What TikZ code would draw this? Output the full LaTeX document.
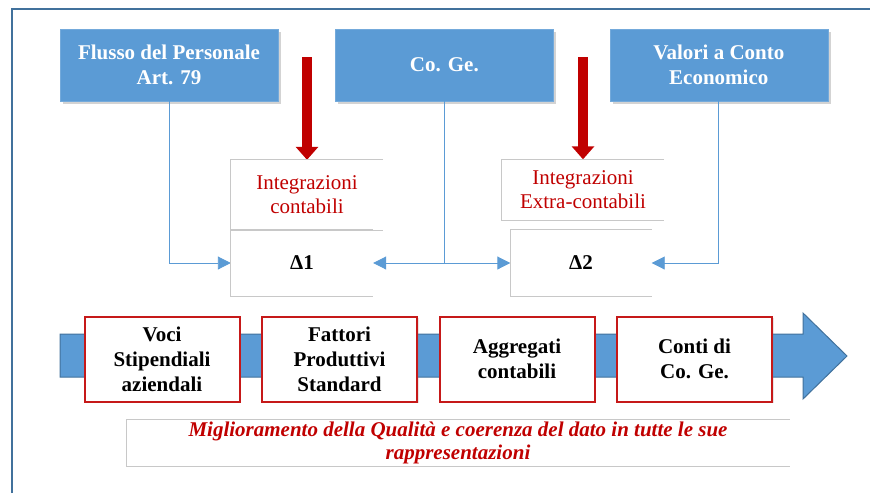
\documentclass[tikz,border=0pt]{standalone}
\usepackage{fontspec}
\setmainfont{Liberation Serif}
\usetikzlibrary{arrows.meta,shapes,positioning,shadows}
\definecolor{boxblue}{HTML}{5B9BD5}
\definecolor{frameblue}{HTML}{41719C}
\definecolor{darkred}{HTML}{C00000}
\definecolor{linegray}{HTML}{C8C8C8}
\tikzset{
  basic/.style   = {align=center, inner sep=2pt, font=\fontsize{21}{24}\selectfont},
  topbox/.style  = {basic, fill=boxblue, draw=boxblue!85!white, text=white,
                    font=\fontsize{21}{25}\selectfont\bfseries,
                    minimum width=218pt, minimum height=72pt,
                    drop shadow={opacity=0.35, shadow xshift=3pt, shadow yshift=-3pt}},
  redbox/.style  = {basic, fill=white, draw=darkred!90!white, line width=2pt,
                    font=\fontsize{21}{25}\selectfont\bfseries,
                    minimum width=155pt, minimum height=85pt,
                    drop shadow={opacity=0.2, shadow xshift=1.5pt, shadow yshift=-1.5pt}},
  note/.style    = {basic},
  edgeline/.style = {draw=linegray, line width=1pt},
  conn/.style    = {draw=boxblue, line width=0.9pt, -{Triangle[length=13pt,width=13pt]}},
  downarrow/.style = {draw=darkred, line width=10pt, -{Triangle[length=13pt,width=22pt]}},
  bigarrow/.style = {fill=boxblue, draw=frameblue, line width=1pt, line join=miter}
}
\begin{document}
\begin{tikzpicture}[x=1pt,y=-1pt]
\useasboundingbox (0,0) rectangle (870,493);

% cornice
\draw[frameblue, line width=2pt] (12,493) -- (12,9) -- (870,9);

% fonti dei dati
\node[topbox] (flusso) at (169,65) {Flusso del Personale\\Art. 79};
\node[topbox, right=57pt of flusso] (coge) {Co. Ge.};
\node[topbox, right=56pt of coge] (valori) {Valori a Conto\\Economico};

% integrazioni e delta
\node[note, text=darkred, minimum width=152pt, minimum height=70pt, text depth=-6pt] (int1) at (307,195) {Integrazioni\\contabili};
\node[note, font=\fontsize{21}{24}\selectfont\bfseries, minimum width=142pt, minimum height=66pt] (d1) at (302,263) {Δ1};
\node[note, text=darkred, minimum width=162pt, minimum height=61pt] (int2) at (583,190) {Integrazioni\\Extra-contabili};
\node[note, font=\fontsize{21}{24}\selectfont\bfseries, minimum width=141pt, minimum height=67pt] (d2) at (581,263) {Δ2};

\coordinate (r1) at (307,57);
\coordinate (r2) at (583,57);
\draw[downarrow] (r1) -- (int1.north);
\draw[downarrow] (r2) -- (int2.north);

% collegamenti
\draw[conn] (flusso.south) |- (d1.west);
\draw[conn] (valori.south) |- (d2.east);
\coordinate (snodo) at (coge.south |- d1.west);
\draw[conn] (coge.south) -- (snodo) -- (d1.east);
\draw[conn] (snodo) -- (d2.west);

% freccia di processo
\draw[bigarrow] (60,334) -- (803,334) -- (803,313) -- (847,356) -- (803,399) -- (803,377) -- (60,377) -- cycle;

\node[redbox] (voci) at (162,359) {Voci\\Stipendiali\\aziendali};
\node[redbox, right=20.5pt of voci] (fattori) {Fattori\\Produttivi\\Standard};
\node[redbox, right=20.5pt of fattori] (aggregati) {Aggregati\\contabili};
\node[redbox, right=20.5pt of aggregati] (conti) {Conti di\\Co. Ge.};

\node[note, text=darkred, font=\fontsize{21}{23}\selectfont\bfseries\itshape,
      minimum width=663pt, minimum height=43pt] (motto) at (458,443)
      {Miglioramento della Qualità e coerenza del dato in tutte le sue\\rappresentazioni};

% bordi aperti
\foreach \n in {int1,d1,int2,d2,motto}
  \draw[edgeline] (\n.north east) -- (\n.north west) -- (\n.south west) -- (\n.south east);
\end{tikzpicture}
\end{document}
